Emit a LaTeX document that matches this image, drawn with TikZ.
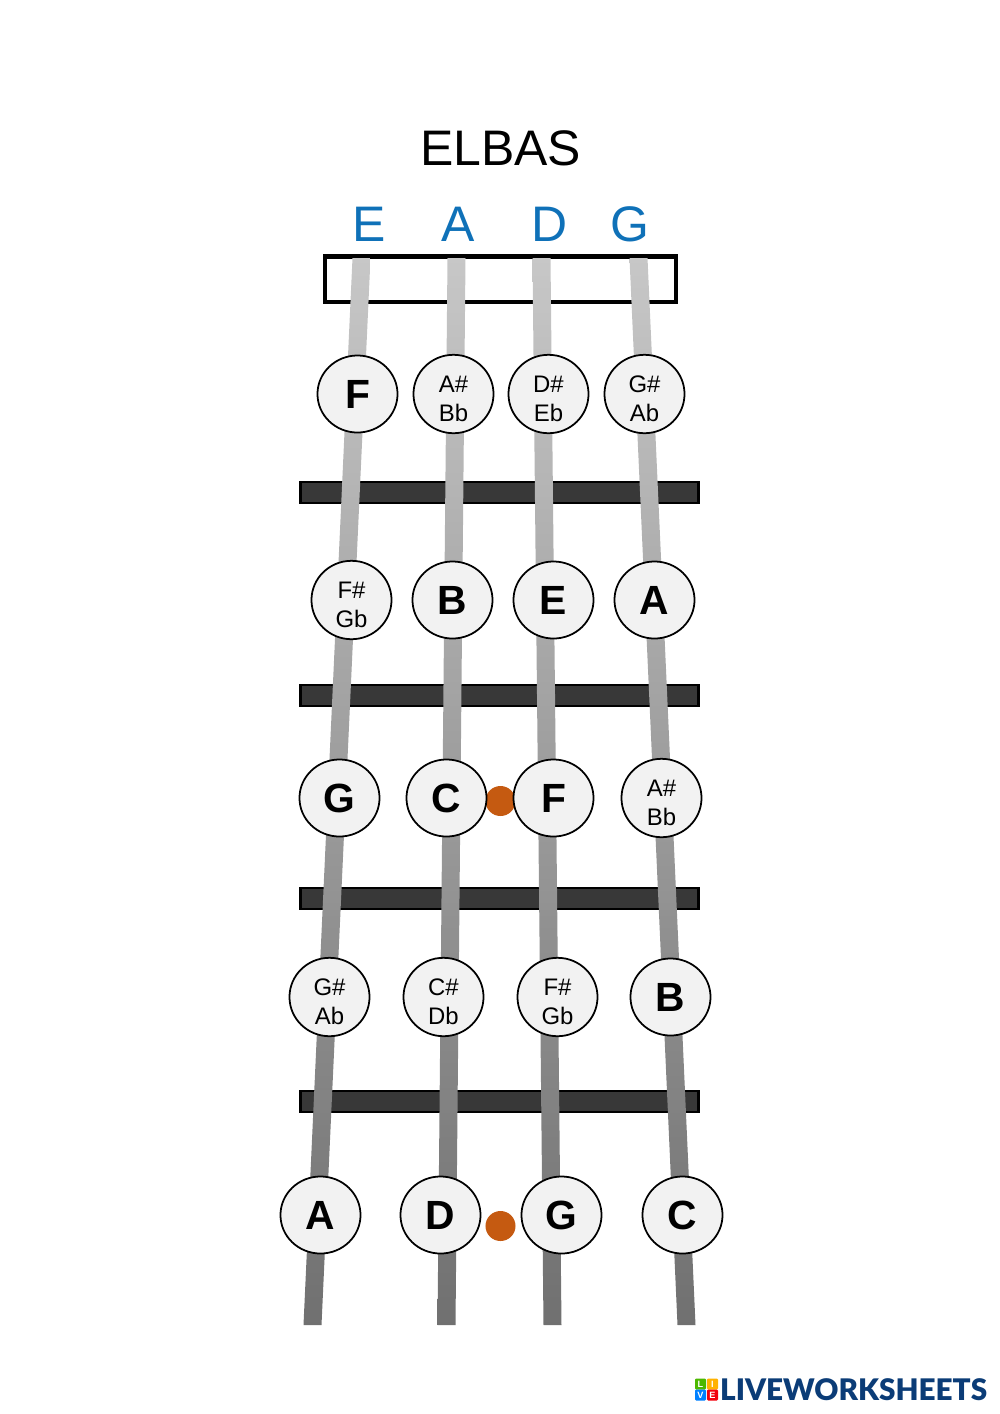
\documentclass[tikz,border=0pt]{standalone}
\usepackage{fontspec}
\usepackage{xcolor}
\usetikzlibrary{shapes.geometric}
\setmainfont{Liberation Sans}
\newfontfamily\logofont{Lato}[BoldFont={Lato Black}]
\definecolor{openblue}{HTML}{0F71B8}
\definecolor{dotorange}{HTML}{C55A11}
\definecolor{logoblue}{HTML}{0B3C77}
\tikzset{
    notecircle/.style={ellipse, draw=black, line width=0.5pt, fill=black!5, minimum width=0.8cm, minimum height=0.77cm, inner sep=0pt, align=center},
    notebig/.style={notecircle, font=\fontsize{11.6}{11.6}\bfseries\selectfont},
    notesmall/.style={notecircle, font=\fontsize{6.8}{8.2}\selectfont},
    openstring/.style={font=\fontsize{14.2}{14.2}\selectfont, text=openblue},
    fretbar/.style={draw=black, line width=0.6pt, fill=black!78},
    inlay/.style={circle, fill=dotorange, minimum size=0.3cm, inner sep=0pt},
    logobox/.style={minimum size=0.11cm, inner sep=0pt, rounded corners=0.3pt, text=white, font=\fontsize{2.6}{2.6}\bfseries\selectfont}
}

\begin{document}
\begin{tikzpicture}[x=0.01cm, y=-0.01cm]
    \useasboundingbox (-0.5, 0) rectangle (999.5, 1414);
    % Titel
    \node (title) at (500, 148) {\fontsize{14.2}{14.2}\selectfont ELBAS};
    \foreach \name/\x/\txt in {openE/369/E, openA/458/A, openD/549/D, openG/629/G}
    {
        \node[openstring] (\name) at (\x, 224) {\txt};
    }
    % Sattel und Bundstaebe
    \draw[black, line width=1.15pt] (324.5, 256.5) rectangle (675.5, 302);
    \foreach \y in {482, 685, 888, 1091}
    {
        \draw[fretbar] (300, \y) rectangle (698, \y+21);
    }
    % Saiten
    \foreach \top/\bottom in {361/312, 456/446, 541/552, 638/686}
    {
        \shade[top color=black!22, bottom color=black!56] (\top-9, 258) -- (\top+9, 258) -- (\bottom+9, 1325) -- (\bottom-9, 1325) -- cycle;
    }
    % Punkte
    \node[inlay] (dotthree) at (500, 801) {};
    \node[inlay] (dotfive) at (500, 1226) {};
    % Toene
    \foreach \name/\x/\y/\txt in {rowaE/357/394/F, rowbA/452/600/B, rowbD/553/600/E, rowbG/654/600/A,
        rowcE/339/798/G, rowcA/446/798/C, rowcD/553/798/F, rowdG/670/997/B,
        roweE/320/1215/A, roweA/440/1215/D, roweD/561/1215/G, roweG/682/1215/C}
    {
        \node[notebig] (\name) at (\x, \y) {\txt};
    }
    \foreach \name/\x/\y/\txt in {rowaA/453/394/{A\#\\Bb}, rowaD/548/394/{D\#\\Eb}, rowaG/644/394/{G\#\\Ab},
        rowbE/351/600/{F\#\\Gb}, rowcG/661/798/{A\#\\Bb},
        rowdE/329/997/{G\#\\Ab}, rowdA/443/997/{C\#\\Db}, rowdD/557/997/{F\#\\Gb}}
    {
        \node[notesmall] (\name) at (\x, \y) {\rule{0pt}{7.5pt}\txt};
    }
    % Logo
    \node[logobox, fill=green!60!black!70!yellow] (logoL) at (700, 1384) {L};
    \node[logobox, fill=orange!60!yellow] (logoI) at (712, 1384) {I};
    \node[logobox, fill=blue!50!cyan] (logoV) at (700, 1395) {V};
    \node[logobox, fill=red!80!purple] (logoE) at (712, 1395) {E};
    \node[anchor=west, inner sep=0pt, text=logoblue, font=\logofont\fontsize{8.45}{8.45}\bfseries\selectfont] (logotext) at (719, 1390) {LIVEWORKSHEETS};
\end{tikzpicture}
\end{document}
